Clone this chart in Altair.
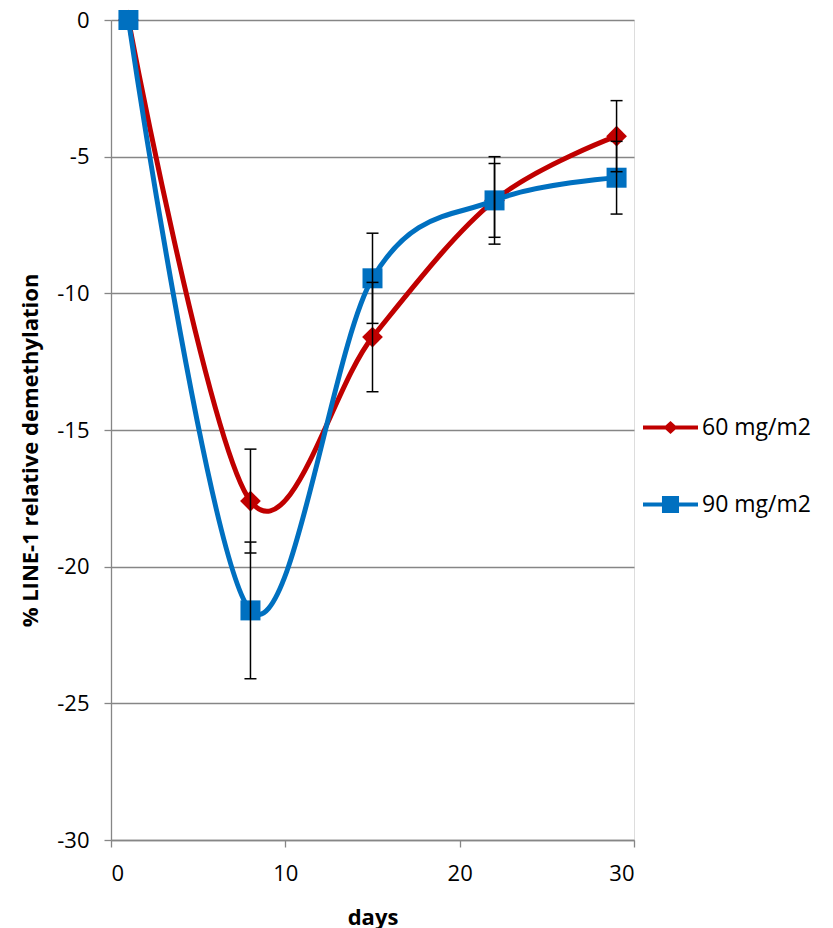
import altair as alt
import pandas as pd

# ---- data ----
days = [1, 8, 15, 22, 29]
series_names = ["60 mg/m2", "90 mg/m2"]
s60 = [0.0, -17.6, -11.6, -6.6, -4.25]
s60_err = [0.0, 1.9, 2.0, 1.6, 1.3]
s90 = [0.0, -21.6, -9.45, -6.6, -5.77]
s90_err = [0.0, 2.5, 1.65, 1.35, 1.33]

x_ticks = [0, 10, 20, 30]
y_ticks = [-30, -25, -20, -15, -10, -5, 0]

RED = "#C00000"
BLUE = "#0070C0"
GREY = "#868686"
FONT = "Open Sans"

df60 = pd.DataFrame({"day": days, "val": s60, "err": s60_err, "series": series_names[0]})
df90 = pd.DataFrame({"day": days, "val": s90, "err": s90_err, "series": series_names[1]})
dfall = pd.concat([df60, df90], ignore_index=True)
dfall["lo"] = dfall["val"] - dfall["err"]
dfall["hi"] = dfall["val"] + dfall["err"]
dferr = dfall[dfall["err"] > 0]

# legend-only data, placed outside the x domain and clipped away
legend_df = pd.DataFrame({"day": [-50, -50], "val": [0, 0], "series": series_names})

diamond_path = ("M-1,-0.075 L-0.18,-0.075 L0,-0.24 L0.18,-0.075 L1,-0.075 L1,0.075 "
                "L0.18,0.075 L0,0.24 L-0.18,0.075 L-1,0.075 Z")
square_path = ("M-1,-0.075 L-0.31,-0.075 L-0.31,-0.31 L0.31,-0.31 L0.31,-0.075 L1,-0.075 "
               "L1,0.075 L0.31,0.075 L0.31,0.31 L-0.31,0.31 L-0.31,0.075 L-1,0.075 Z")

xscale = alt.Scale(domain=[0, 30], nice=False, zero=False)
yscale = alt.Scale(domain=[-30, 0], nice=False, zero=False)

minus_fix = "datum.value < 0 ? '-' + abs(datum.value) : '' + datum.value"

xaxis = alt.Axis(values=x_ticks, grid=False, domainColor=GREY, domainWidth=1.3,
                 tickColor=GREY, tickWidth=1.3, tickSize=7, labelFontSize=22,
                 labelFont=FONT, labelColor="black", labelPadding=16, labelExpr=minus_fix,
                 title="days", titleFont=FONT, titleFontSize=22, titleFontWeight="bold",
                 titleColor="black", titleY=77, titleBaseline="middle")
yaxis = alt.Axis(values=y_ticks, grid=True, gridColor=GREY, gridWidth=1.3,
                 domainColor=GREY, domainWidth=1.3, tickColor=GREY, tickWidth=1.3,
                 tickSize=7, labelFontSize=22, labelFont=FONT, labelColor="black",
                 labelPadding=15, labelExpr=minus_fix,
                 title="% LINE-1 relative demethylation",
                 titleFont=FONT, titleFontSize=22, titleFontWeight="bold",
                 titleColor="black", titleX=-81, titleY=430, titleAlign="center",
                 titleBaseline="middle", titleAngle=270)

X = alt.X("day:Q", scale=xscale, axis=xaxis)
Y = alt.Y("val:Q", scale=yscale, axis=yaxis)

legend_layer = alt.Chart(legend_df).mark_point(filled=True, clip=True, opacity=1).encode(
    x=X, y=Y,
    color=alt.Color("series:N", scale=alt.Scale(domain=series_names, range=[RED, BLUE]),
                    legend=alt.Legend(title=None, orient="none", legendX=532, legendY=380,
                                      symbolSize=3025, symbolStrokeWidth=0,
                                      labelFont=FONT, labelFontSize=23, labelColor="black",
                                      labelOffset=4, rowPadding=37, padding=0)),
    shape=alt.Shape("series:N", scale=alt.Scale(domain=series_names,
                                                range=[diamond_path, square_path])),
)

line60 = alt.Chart(df60).mark_line(color=RED, strokeWidth=5, interpolate="cardinal").encode(x=X, y=Y)
line90 = alt.Chart(df90).mark_line(color=BLUE, strokeWidth=5, interpolate="cardinal").encode(x=X, y=Y)
pts60 = alt.Chart(df60).mark_point(shape="diamond", filled=True, color=RED, size=430, opacity=1).encode(x=X, y=Y)
pts90 = alt.Chart(df90).mark_point(shape="square", filled=True, color=BLUE, size=400, opacity=1).encode(x=X, y=Y)

err_rule = alt.Chart(dferr).mark_rule(color="black", strokeWidth=1.5).encode(
    x=X, y=alt.Y("lo:Q", scale=yscale, axis=yaxis), y2="hi:Q")
cap_lo = alt.Chart(dferr).mark_tick(color="black", orient="horizontal", size=12, thickness=1.5, opacity=1).encode(
    x=X, y=alt.Y("lo:Q", scale=yscale, axis=yaxis))
cap_hi = alt.Chart(dferr).mark_tick(color="black", orient="horizontal", size=12, thickness=1.5, opacity=1).encode(
    x=X, y=alt.Y("hi:Q", scale=yscale, axis=yaxis))

chart = alt.layer(
    legend_layer, line60, pts60, line90, pts90, err_rule, cap_lo, cap_hi
).properties(
    width=523, height=820,
    autosize=alt.AutoSizeParams(type="none"),
    padding={"left": 103, "top": 12, "right": 191, "bottom": 95},
).configure_view(stroke=None).configure(background="white")

chart.save("out.html", embed_options={"renderer": "svg", "actions": False})
